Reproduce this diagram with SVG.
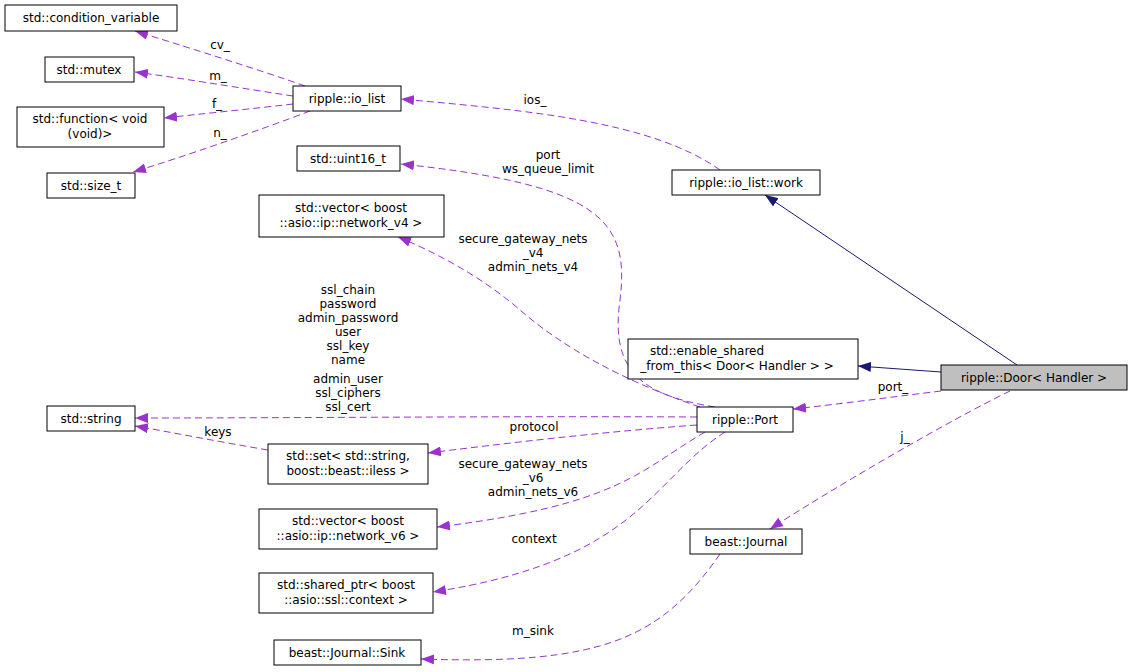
<svg xmlns="http://www.w3.org/2000/svg" width="1132" height="672" viewBox="0 0 1132 672">
<style>
.n rect{fill:#fff;stroke:#000;stroke-width:1}
text{font-family:"DejaVu Sans",sans-serif;font-size:12px;fill:#000;text-anchor:middle}
.d{fill:none;stroke:#9a32cd;stroke-dasharray:7,4}
.s{fill:none;stroke:#191970}
</style>
<defs>
<marker id="ap" markerUnits="userSpaceOnUse" markerWidth="14" markerHeight="10" refX="13" refY="5" orient="auto"><path d="M0,0L13,5L0,10z" fill="#9a32cd"/></marker>
<marker id="an" markerUnits="userSpaceOnUse" markerWidth="14" markerHeight="10" refX="13" refY="5" orient="auto"><path d="M0,0L13,5L0,10z" fill="#191970"/></marker>
</defs>
<rect width="1132" height="672" fill="#fff"/>
<g id="edges">
<path class="d" marker-end="url(#ap)" d="M305,86C260,70 180,45 135,31"/><text x="220" y="49">cv_</text>
<path class="d" marker-end="url(#ap)" d="M293,96C240,88 180,78 135,72"/><text x="218" y="80">m_</text>
<path class="d" marker-end="url(#ap)" d="M293,104C250,109 200,114 164,118"/><text x="217" y="108">f_</text>
<path class="d" marker-end="url(#ap)" d="M310,111C260,130 180,158 133,172"/><text x="220" y="137">n_</text>
<path class="d" marker-end="url(#ap)" d="M720,170C650,120 520,110 401,99"/><text x="535" y="104">ios_</text>
<path class="d" marker-end="url(#ap)" d="M715,407C640,395 610,370 620,300C630,220 600,185 401,164"/><text x="548" y="159">port</text><text x="548" y="173">ws_queue_limit</text>
<path class="d" marker-end="url(#ap)" d="M700,407C620,380 560,345 520,310C480,275 430,250 398,237"/><text x="523" y="243">secure_gateway_nets</text><text x="533" y="257">_v4</text><text x="533" y="271">admin_nets_v4</text>
<path class="d" marker-end="url(#ap)" d="M697,417C500,416 300,418 135,418"/>
<text x="348" y="294">ssl_chain</text><text x="348" y="308">password</text><text x="348" y="322">admin_password</text><text x="348" y="336">user</text><text x="348" y="350">ssl_key</text><text x="348" y="364">name</text><text x="348" y="383">admin_user</text><text x="348" y="397">ssl_ciphers</text><text x="348" y="411">ssl_cert</text>
<path class="d" marker-end="url(#ap)" d="M697,425C600,432 500,444 428,453"/><text x="534" y="431">protocol</text>
<path class="d" marker-end="url(#ap)" d="M268,450C220,442 170,432 135,426"/><text x="218" y="436">keys</text>
<path class="d" marker-end="url(#ap)" d="M705,432C640,470 620,505 437,527"/><text x="523" y="468">secure_gateway_nets</text><text x="533" y="482">_v6</text><text x="533" y="496">admin_nets_v6</text>
<path class="d" marker-end="url(#ap)" d="M725,432C650,480 640,560 433,592"/><text x="534" y="543">context</text>
<path class="d" marker-end="url(#ap)" d="M720,554C660,640 600,665 421,659"/><text x="533" y="635">m_sink</text>
<path class="s" marker-end="url(#an)" d="M1017,365L765,195"/>
<path class="s" marker-end="url(#an)" d="M941,372L858,366"/>
<path class="d" marker-end="url(#ap)" d="M941,391C900,396 840,404 793,409"/><text x="893" y="391">port_</text>
<path class="d" marker-end="url(#ap)" d="M1010,391C950,420 830,490 770,529"/><text x="905" y="441">j_</text>
</g>
<g id="n_cv" class="n"><rect x="5" y="5" width="172" height="26"/><text x="91" y="22">std::condition_variable</text></g>
<g id="n_mutex" class="n"><rect x="45" y="57" width="89" height="25"/><text x="89" y="74">std::mutex</text></g>
<g id="n_func" class="n"><rect x="17" y="107" width="147" height="40"/><text x="90" y="123">std::function&lt; void</text><text x="90" y="138">(void)&gt;</text></g>
<g id="n_size" class="n"><rect x="47" y="173" width="88" height="25"/><text x="91" y="190">std::size_t</text></g>
<g id="n_iolist" class="n"><rect x="293" y="86" width="108" height="25"/><text x="347" y="103">ripple::io_list</text></g>
<g id="n_u16" class="n"><rect x="297" y="146" width="103" height="25"/><text x="348" y="163">std::uint16_t</text></g>
<g id="n_v4" class="n"><rect x="259" y="195" width="185" height="42"/><text x="351" y="212">std::vector&lt; boost</text><text x="351" y="227">::asio::ip::network_v4 &gt;</text></g>
<g id="n_work" class="n"><rect x="672" y="170" width="148" height="25"/><text x="746" y="187">ripple::io_list::work</text></g>
<g id="n_esft" class="n"><rect x="628" y="339" width="230" height="40"/><text x="707" y="355">std::enable_shared</text><text x="737" y="370">_from_this&lt; Door&lt; Handler &gt; &gt;</text></g>
<g id="n_door" class="n"><rect x="941" y="365" width="186" height="25" style="fill:#bfbfbf"/><text x="1034" y="382">ripple::Door&lt; Handler &gt;</text></g>
<g id="n_string" class="n"><rect x="47" y="406" width="88" height="25"/><text x="91" y="423">std::string</text></g>
<g id="n_port" class="n"><rect x="697" y="407" width="96" height="25"/><text x="745" y="424">ripple::Port</text></g>
<g id="n_set" class="n"><rect x="268" y="444" width="160" height="40"/><text x="348" y="460">std::set&lt; std::string,</text><text x="348" y="475">boost::beast::iless &gt;</text></g>
<g id="n_v6" class="n"><rect x="259" y="509" width="178" height="40"/><text x="348" y="525">std::vector&lt; boost</text><text x="348" y="540">::asio::ip::network_v6 &gt;</text></g>
<g id="n_sp" class="n"><rect x="259" y="573" width="174" height="40"/><text x="346" y="589">std::shared_ptr&lt; boost</text><text x="346" y="604">::asio::ssl::context &gt;</text></g>
<g id="n_journal" class="n"><rect x="690" y="529" width="112" height="25"/><text x="746" y="546">beast::Journal</text></g>
<g id="n_sink" class="n"><rect x="274" y="640" width="147" height="25"/><text x="347" y="657">beast::Journal::Sink</text></g>
</svg>
